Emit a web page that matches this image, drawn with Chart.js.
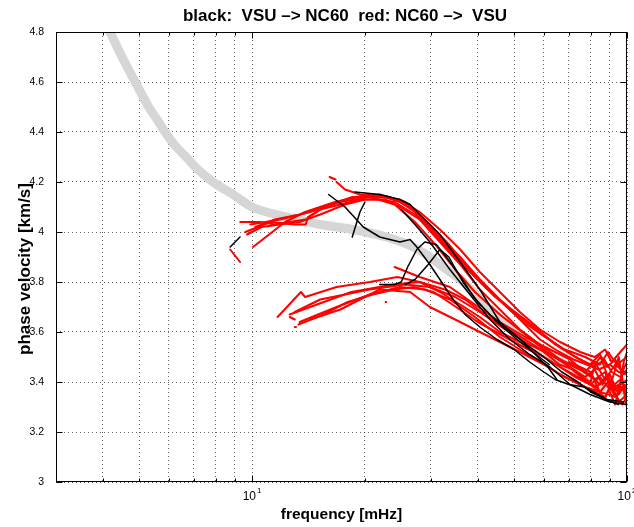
<!DOCTYPE html>
<html lang="en">
<head>
    <meta charset="UTF-8">
    <title>Phase velocity</title>
    <style>
        body { margin: 0; background: #fff; }
        canvas { display: block; }
    </style>
</head>
<body>
    <canvas id="chart" width="634" height="527" style="width:634px;height:527px"></canvas>

    <script src="https://cdn.jsdelivr.net/npm/chart.js"></script>
    <script>
        // ---- data: [frequency mHz, phase velocity km/s] ----
        const modelFreq = [4.0, 4.18, 4.5, 4.88, 5.3, 5.58, 5.86, 6.2, 6.67, 7.17, 7.87, 8.9, 10, 12.4, 15.2, 18.6, 22.8, 26.9, 29.8, 33, 36.6, 43.1, 50.6, 60, 70, 84.7, 100];
        const modelVel  = [4.86, 4.80, 4.70, 4.60, 4.50, 4.45, 4.40, 4.35, 4.30, 4.25, 4.20, 4.15, 4.10, 4.06, 4.03, 4.01, 3.98, 3.94, 3.90, 3.85, 3.80, 3.69, 3.60, 3.52, 3.46, 3.39, 3.36];

        // red: NC60 -> VSU
        const redU1 = [[9.3,4.04],[10.5,4.04],[11.5,4.03],[12.6,4.04],[13.9,4.05],[15.6,4.10],[18.5,4.14],[20.6,4.14],[22.6,4.14],[24.8,4.12],[27.2,4.08],[29.8,4.01],[32.7,3.95],[36.5,3.88],[40.5,3.81],[45,3.74],[51.8,3.65],[58.6,3.57],[66,3.52],[72,3.49],[78,3.47],[84,3.45],[90,3.47],[95,3.44],[100,3.43]];
        const redU2 = [[10.06,3.94],[12.25,4.04],[13.85,4.08],[16.65,4.12],[20.6,4.15],[23.3,4.14],[26.4,4.10],[28.9,4.04],[31.7,3.98],[35.9,3.90],[40.5,3.81],[45.8,3.73],[51.8,3.66],[58.6,3.60],[66.3,3.54],[75,3.49],[82,3.46],[87,3.49],[91,3.44],[96,3.42],[100,3.45]];
        const redU3 = [[9.7,3.99],[10.6,4.02],[11.9,4.03],[13.4,4.04],[15.2,4.07],[17.7,4.11],[20,4.13],[22.6,4.13],[24.8,4.10],[28,4.05],[31.7,3.96],[35.9,3.87],[40.5,3.77],[45.8,3.69],[51.8,3.61],[58.6,3.55],[66.3,3.49],[72.7,3.44],[79.7,3.39],[84.7,3.42],[90,3.37],[95,3.39],[100,3.35]];
        const redU4 = [[9.6,4.00],[11.2,4.04],[13,4.03],[13.9,4.03],[14.1,4.06],[15.2,4.09],[17.2,4.11],[19.4,4.13],[21.9,4.13],[24,4.12],[27.2,4.07],[30.8,3.99],[34.8,3.90],[39.3,3.82],[44.5,3.74],[50.3,3.68],[56.8,3.62],[64.3,3.55],[72.7,3.50],[79.7,3.47],[84.7,3.51],[88.5,3.46],[93,3.49],[97,3.44],[100,3.48]];
        const redU5 = [[16.8,4.20],[17.7,4.17],[19.4,4.15],[21.9,4.14],[24.8,4.13],[28,4.08],[31.7,4.01],[35.9,3.93],[40.5,3.84],[45.8,3.76],[51.8,3.68],[58.6,3.61],[66.3,3.56],[75,3.52],[82,3.50],[87.4,3.53],[91,3.48],[96,3.52],[100,3.55]];
        const redU6 = [[10.2,4.02],[11.5,4.05],[13.4,4.07],[16.1,4.11],[18.8,4.14],[21.9,4.15],[25.6,4.12],[29.8,4.03],[33.5,3.95],[37.5,3.86],[42,3.78],[47,3.71],[53,3.64],[60.4,3.58],[68.3,3.53],[77.3,3.50],[84.7,3.47],[89,3.52],[94,3.47],[100,3.50]];
        const redU7 = [[9.9,4.03],[11.9,4.05],[14.3,4.08],[17.2,4.12],[20.6,4.14],[24,4.11],[27.2,4.04],[30.8,3.95],[34.8,3.85],[39.3,3.76],[45.8,3.67],[53.5,3.59],[62.3,3.51],[70.5,3.46],[77.3,3.42],[82,3.45],[86,3.39],[90,3.43],[95,3.35],[98.8,3.39]];
        const redL1 = [[11.7,3.66],[13.5,3.76],[13.85,3.74],[16.8,3.78],[20.6,3.80],[24.4,3.82],[28,3.80],[31.7,3.76],[35.9,3.71],[40.5,3.66],[45.8,3.60],[51.8,3.56],[58.6,3.51],[66.3,3.46],[72.7,3.42],[79.7,3.39],[84.7,3.36],[89,3.40],[93,3.34],[97,3.38],[100,3.33]];
        const redL2 = [[12.6,3.67],[14.9,3.71],[18.4,3.76],[23.8,3.79],[28,3.80],[32.7,3.77],[37,3.73],[41.8,3.67],[47.3,3.62],[53.5,3.57],[60.4,3.52],[68.3,3.48],[75,3.45],[82,3.41],[87.4,3.44],[91,3.38],[96,3.41],[100,3.36]];
        const redL3 = [[13.4,3.64],[16.8,3.70],[20.6,3.75],[24.8,3.78],[28.9,3.77],[33.7,3.73],[39.3,3.66],[45.8,3.58],[51.8,3.53],[58.6,3.48],[66.3,3.43],[75,3.39],[82,3.36],[87.4,3.34],[91,3.39],[95,3.32],[100,3.35]];
        const redL4 = [[13,3.68],[15.2,3.73],[20.6,3.77],[25.6,3.79],[29.8,3.78],[34.8,3.74],[40.5,3.68],[47.3,3.61],[55,3.55],[64.3,3.50],[72.7,3.46],[79.7,3.43],[84.7,3.39],[88.5,3.43],[93,3.37],[100,3.41]];
        const redL5 = [[14.3,3.65],[17.2,3.69],[21.9,3.77],[26.4,3.76],[29.8,3.70],[34.8,3.65],[40.5,3.60],[45.8,3.56],[51.8,3.52],[60,3.47],[68.3,3.42],[77.3,3.38],[84.7,3.36],[94,3.34],[97,3.31],[100,3.34]];
        const redL6 = [[24,3.86],[28,3.82],[33.7,3.78],[39.3,3.71],[45.8,3.64],[53.5,3.58],[62.3,3.53],[70.5,3.49],[77.3,3.44],[82,3.48],[87.4,3.41],[93,3.47],[100,3.43]];
        const redL7 = [[13.3,3.63],[15.5,3.67],[18,3.72],[21,3.75],[24,3.77],[27,3.78],[30.5,3.76],[35,3.70],[40,3.64],[46,3.59],[53,3.54],[60,3.50],[68,3.45],[76,3.41],[83,3.38],[88,3.42],[92,3.36],[97,3.40],[100,3.37]];
        const redT1 = [[60,3.52],[66,3.47],[72,3.45],[76,3.42],[80,3.40],[82,3.47],[85,3.50],[88,3.44],[90,3.36],[93,3.31],[96,3.40],[98,3.48],[100,3.52]];
        const redT2 = [[70,3.48],[75,3.46],[80,3.44],[84,3.37],[87,3.33],[90,3.38],[93,3.45],[95,3.50],[97,3.42],[99,3.33],[100,3.30]];
        const redBits = [
            [[8.74,3.93],[9.29,3.88]],
            [[16.1,4.22],[16.7,4.21]],
            [[12.6,3.66],[13.0,3.65]],
            [[13.0,3.62],[13.1,3.62]],
            [[18.1,3.72],[18.2,3.72]],
            [[22.7,3.72],[22.8,3.72]]
        ];

        // black: VSU -> NC60
        const blk1 = [[16.0,4.15],[17.7,4.10],[19.8,4.02],[21.9,3.98],[24.8,3.96],[26.4,3.97],[27.5,3.94],[29.8,3.87],[31.7,3.81],[34,3.74],[37,3.67],[40.5,3.62],[45,3.57],[50,3.53],[55,3.48],[60,3.44],[64.3,3.41],[70,3.39],[77,3.38],[88.5,3.33],[98,3.32]];
        const blk2 = [[18.5,3.98],[19.4,4.08],[20,4.12]];
        const blk3 = [[18.8,4.16],[21.9,4.15],[24.8,4.13],[26.4,4.11],[28,4.07],[31.7,3.99],[35.9,3.88],[40.5,3.77],[45.8,3.64],[52,3.57],[61.5,3.46],[65,3.41]];
        const blk4 = [[25,4.09],[27.2,4.03],[29.8,3.96],[33.7,3.85],[38.1,3.75],[43.1,3.65],[48.75,3.57],[55,3.51],[62.3,3.46],[70.5,3.39],[79.7,3.35],[90,3.32],[100,3.31]];
        const blk5 = [[21.9,3.79],[24,3.79],[25,3.80],[26,3.86],[27.5,3.93],[28.9,3.96],[31,3.95],[33,3.90],[36,3.82],[39,3.74],[43,3.67],[48,3.61],[54,3.55],[60,3.50],[67,3.44],[74,3.40],[80,3.36],[88,3.33],[95,3.31]];
        const blk6 = [[25.6,3.79],[27.2,3.81],[29.5,3.87],[31.7,3.93],[33.5,3.90],[36.5,3.80],[40,3.72],[45,3.64],[50,3.58],[56,3.52],[62,3.47]];
        const blk7 = [[8.74,3.94],[9.29,3.98]];

        // axis ticks
        const xGridVals = [4, 5, 6, 7, 8, 9, 10, 20, 30, 40, 50, 60, 70, 80, 90, 100];
        const xLabelVals = [10, 100];
        const xLabelExp = ['1', '2'];

        const titleText = 'black:  VSU \u2013> NC60  red: NC60 \u2013>  VSU';
        const xTitle = 'frequency [mHz]';
        const yTitle = 'phase velocity [km/s]';

        const FONT = "'Liberation Sans', Arial, Helvetica, sans-serif";

        function pts(arr) {
            return arr.map(p => ({ x: p[0], y: p[1] }));
        }

        const redTraces = [redU1, redU2, redU3, redU4, redU5, redU6, redU7,
                           redL1, redL2, redL3, redL4, redL5, redL6, redL7,
                           redT1, redT2].concat(redBits);
        const blackTraces = [blk1, blk2, blk3, blk4, blk5, blk6, blk7];

        var datasets = [];
        datasets.push({
            data: modelFreq.map((f, i) => ({ x: f, y: modelVel[i] })),
            borderColor: '#d6d6d6', borderWidth: 9, order: 3, clip: 0,
            cubicInterpolationMode: 'monotone'
        });
        redTraces.forEach(t => datasets.push({
            data: pts(t), borderColor: '#ff0000', borderWidth: 2, order: 2, tension: 0
        }));
        blackTraces.forEach(t => datasets.push({
            data: pts(t), borderColor: '#000000', borderWidth: 1.5, order: 1, tension: 0
        }));
        datasets.forEach(d => {
            d.showLine = true;
            d.pointRadius = 0;
            d.borderCapStyle = 'round';
            d.borderJoinStyle = 'round';
        });

        const gridColor = 'rgba(0,0,0,0.6)';

        // box, inward tick marks, superscript x labels and titles
        const framePlugin = {
            id: 'frame',
            afterDraw(chart) {
                const ctx = chart.ctx;
                const a = chart.chartArea;
                const xs = chart.scales.x, ys = chart.scales.y;
                ctx.save();
                ctx.strokeStyle = '#000';
                ctx.lineWidth = 1;
                ctx.setLineDash([]);
                const L = Math.round(a.left) + 0.5, R = Math.round(a.right) - 0.5;
                const T = Math.round(a.top) + 0.5, B = Math.round(a.bottom) - 0.5;
                ctx.strokeRect(L, T, R - L, B - T);

                ctx.beginPath();
                xGridVals.forEach(v => {
                    const px = Math.round(xs.getPixelForValue(v)) + 0.5;
                    const len = xLabelVals.includes(v) ? 6 : 3;
                    ctx.moveTo(px, B); ctx.lineTo(px, B - len);
                    ctx.moveTo(px, T); ctx.lineTo(px, T + len);
                });
                ys.ticks.forEach(t => {
                    const py = Math.round(ys.getPixelForValue(t.value)) + 0.5;
                    ctx.moveTo(L, py); ctx.lineTo(L + 6, py);
                    ctx.moveTo(R, py); ctx.lineTo(R - 6, py);
                });
                ctx.stroke();

                ctx.fillStyle = '#000';
                ctx.textBaseline = 'alphabetic';
                ctx.textAlign = 'left';
                xLabelVals.forEach((v, i) => {
                    const px = xs.getPixelForValue(v);
                    ctx.font = '12px ' + FONT;
                    const w1 = ctx.measureText('10').width;
                    ctx.font = '8px ' + FONT;
                    const w2 = ctx.measureText(xLabelExp[i]).width;
                    const x0 = px - (w1 + w2 + 1) / 2;
                    ctx.font = '12px ' + FONT;
                    ctx.fillText('10', x0, 500);
                    ctx.font = '8px ' + FONT;
                    ctx.fillText(xLabelExp[i], x0 + w1 + 1, 493);
                });

                ctx.textAlign = 'center';
                ctx.textBaseline = 'middle';
                ctx.font = 'bold 17px ' + FONT;
                ctx.fillText(titleText, 345, 16);
                ctx.font = 'bold 15.5px ' + FONT;
                ctx.fillText(xTitle, 341.5, 515);
                ctx.translate(25, 269);
                ctx.rotate(-Math.PI / 2);
                ctx.font = 'bold 17px ' + FONT;
                ctx.fillText(yTitle, 0, 0);
                ctx.restore();
            }
        };

        var ctx = document.getElementById('chart').getContext('2d');
        var chart = new Chart(ctx, {
            type: 'scatter',
            data: { datasets: datasets },
            options: {
                responsive: false,
                animation: false,
                devicePixelRatio: 1,
                layout: { padding: { top: 32, right: 7, left: 0, bottom: 0 } },
                plugins: {
                    legend: { display: false },
                    tooltip: { enabled: false },
                    title: { display: false }
                },
                scales: {
                    x: {
                        type: 'logarithmic',
                        min: 3,
                        max: 100,
                        afterBuildTicks: s => { s.ticks = xGridVals.map(v => ({ value: v })); },
                        afterFit: s => { s.height = 45; },
                        ticks: { display: false },
                        grid: { color: gridColor, lineWidth: 1, drawTicks: false, borderDash: [1, 3] },
                        border: { display: false, dash: [1, 3] }
                    },
                    y: {
                        min: 3,
                        max: 4.8,
                        afterFit: s => { s.width = 56; },
                        ticks: {
                            stepSize: 0.2,
                            padding: 12,
                            color: '#000',
                            font: { family: FONT, size: 10.5 },
                            callback: v => String(Math.round(v * 10) / 10)
                        },
                        grid: { color: gridColor, lineWidth: 1, drawTicks: false, borderDash: [1, 3] },
                        border: { display: false, dash: [1, 3] }
                    }
                }
            },
            plugins: [framePlugin]
        });
    </script>
</body>
</html>
